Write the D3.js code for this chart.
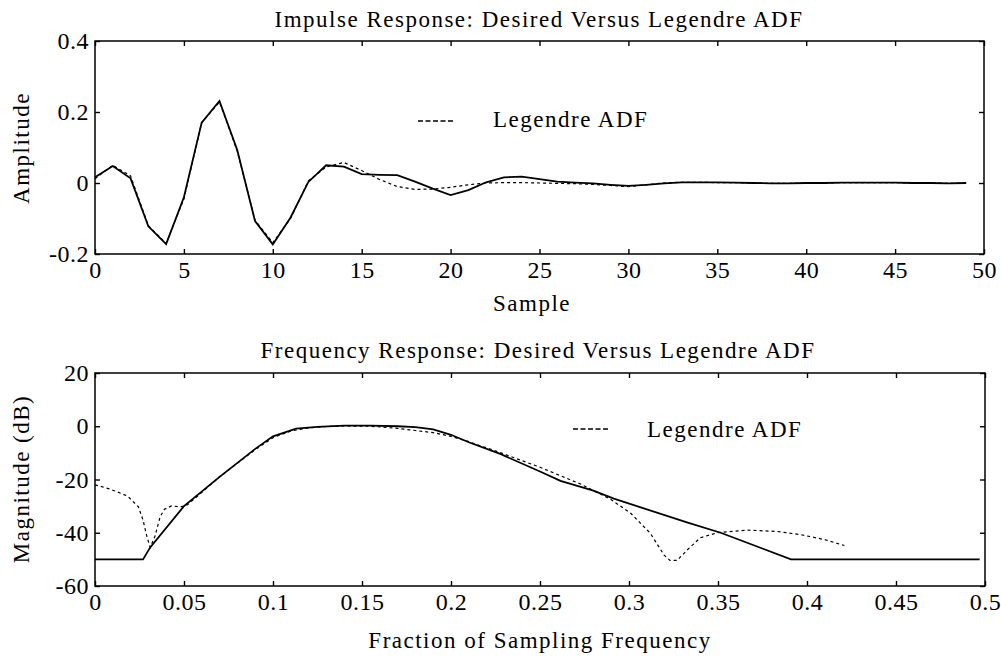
<!DOCTYPE html>
<html>
<head>
<meta charset="utf-8">
<script src="https://cdn.jsdelivr.net/npm/d3@7"></script>
<style>
  html, body { margin: 0; padding: 0; background: #fff; }
  svg { display: block; font-family: "Liberation Serif", "Times New Roman", serif; }
</style>
</head>
<body>
<svg id="chart" width="1001" height="657"></svg>
<script>
// ── Data ─────────────────────────────────────────────────────────

// impulse response, samples 0..49
const samples = d3.range(0, 50);
const desiredImpulse = [
  0.016, 0.048, 0.013, -0.122, -0.172, -0.04, 0.17, 0.231, 0.093, -0.107,
  -0.173, -0.097, 0.003, 0.05, 0.046, 0.025, 0.023, 0.022, 0.004, -0.016,
  -0.034, -0.02, 0.002, 0.016, 0.018, 0.011, 0.004, 0.001, -0.001, -0.005,
  -0.008, -0.005, -0.001, 0.002, 0.002, 0.002, 0.001, 0.0, -0.001, -0.001,
  0.0, 0.0, 0.001, 0.001, 0.001, 0.001, 0.0, 0.0, -0.001, 0.0,
];
const legendreImpulse = [
  0.012, 0.05, 0.02, -0.12, -0.17, -0.045, 0.17, 0.228, 0.09, -0.105,
  -0.168, -0.1, 0.006, 0.045, 0.058, 0.035, 0.01, -0.01, -0.018, -0.017,
  -0.012, -0.005, 0.0, 0.001, 0.001, 0.0, -0.001, -0.002, -0.004, -0.007,
  -0.01, -0.005, 0.0, 0.002, 0.002, 0.001, 0.001, 0.0, -0.001, -0.001,
  0.0, 0.0, 0.001, 0.001, 0.001, 0.001, 0.0, 0.0, -0.001, 0.0,
];

// frequency response: [fraction of fs, dB]
const desiredFreq = [
  [0, -50], [0.027, -50], [0.031, -45.5], [0.05, -30], [0.07, -19],
  [0.09, -8.5], [0.1, -3.8], [0.113, -0.9], [0.125, -0.2], [0.14, 0.2],
  [0.155, 0.2], [0.17, 0], [0.18, -0.3], [0.19, -1.2], [0.2, -3.2],
  [0.21, -6.0], [0.228, -10.5], [0.25, -17], [0.2615, -20.5], [0.28, -24.2],
  [0.2915, -27.2], [0.333, -36.2], [0.3515, -40], [0.391, -50], [0.497, -50],
];
const legendreFreq = [
  [0, -22], [0.008, -23.5], [0.015, -25.3], [0.0184, -26.3], [0.0244, -30.3],
  [0.027, -35.3], [0.029, -41], [0.031, -45.5], [0.0337, -41.3], [0.0366, -34],
  [0.039, -31.2], [0.043, -29.9], [0.048, -30.3], [0.052, -29.5], [0.07, -19],
  [0.09, -8.8], [0.1, -4.3], [0.11, -1.8], [0.12, -0.6], [0.13, -0.1],
  [0.14, 0.1], [0.155, 0], [0.17, -0.8], [0.18, -1.6], [0.19, -2.4],
  [0.2, -3.8], [0.21, -5.8], [0.228, -10], [0.25, -15.4], [0.2728, -21.7],
  [0.2896, -27.4], [0.301, -32.7], [0.312, -40.2], [0.3196, -48.3], [0.323, -50.4],
  [0.327, -50.4], [0.333, -46.3], [0.34, -41.9], [0.3496, -40], [0.3665, -39],
  [0.383, -39.5], [0.3965, -40.7], [0.41, -42.6], [0.421, -44.8],
];

// ticks
const sampleTicks = [0, 5, 10, 15, 20, 25, 30, 35, 40, 45, 50];
const ampTicks = [-0.2, 0, 0.2, 0.4];
const freqTicks = [0, 0.05, 0.1, 0.15, 0.2, 0.25, 0.3, 0.35, 0.4, 0.45, 0.5];
const dbTicks = [-60, -40, -20, 0, 20];

const legendLabel = "Legendre ADF";

// ── Layout ───────────────────────────────────────────────────────

const svg = d3.select("#chart");
const TICK = 5;
const fmt = (d) => d3.format("~g")(d).replace("\u2212", "-");

function panel(box, xDomain, yDomain, xTicks, yTicks) {
  const x = d3.scaleLinear().domain(xDomain).range([box.x0, box.x1]);
  const y = d3.scaleLinear().domain(yDomain).range([box.y1, box.y0]);
  const g = svg.append("g");

  const styleAxis = (sel, labels) => {
    sel.select(".domain").remove();
    sel.selectAll(".tick line").attr("stroke", "#000").attr("stroke-width", 1.4);
    sel.selectAll(".tick text")
      .attr("fill", "#000")
      .attr("font-size", 24)
      .attr("font-family", "Liberation Serif, serif")
      .attr("letter-spacing", 0.5);
    if (!labels) sel.selectAll(".tick text").remove();
  };

  g.append("g").attr("transform", `translate(0,${box.y1})`)
    .call(d3.axisBottom(x).tickValues(xTicks).tickSize(-TICK).tickPadding(7).tickFormat(fmt))
    .call(styleAxis, true);
  g.append("g").attr("transform", `translate(0,${box.y0})`)
    .call(d3.axisTop(x).tickValues(xTicks).tickSize(-TICK).tickFormat(""))
    .call(styleAxis, false);
  g.append("g").attr("transform", `translate(${box.x0},0)`)
    .call(d3.axisLeft(y).tickValues(yTicks).tickSize(-TICK).tickPadding(6).tickFormat(fmt))
    .call(styleAxis, true);
  g.append("g").attr("transform", `translate(${box.x1},0)`)
    .call(d3.axisRight(y).tickValues(yTicks).tickSize(-TICK).tickFormat(""))
    .call(styleAxis, false);

  g.append("rect")
    .attr("x", box.x0).attr("y", box.y0)
    .attr("width", box.x1 - box.x0).attr("height", box.y1 - box.y0)
    .attr("fill", "none").attr("stroke", "#000").attr("stroke-width", 1.5);

  return { x, y, g };
}

function text(x, y, str, opts = {}) {
  const t = svg.append("text")
    .attr("x", x).attr("y", y)
    .attr("font-size", opts.size ?? 23)
    .attr("letter-spacing", opts.spacing ?? 1.5)
    .attr("text-anchor", opts.anchor ?? "middle")
    .attr("fill", "#000")
    .text(str);
  if (opts.rotate) t.attr("transform", `rotate(-90,${x},${y})`);
  return t;
}

function legend(g, x0, x1, ly, tx, ty) {
  g.append("line")
    .attr("x1", x0).attr("x2", x1).attr("y1", ly).attr("y2", ly)
    .attr("stroke", "#000").attr("stroke-width", 1.5)
    .attr("stroke-dasharray", "5 2.5");
  text(tx, ty, legendLabel, { anchor: "start" });
}

// ── Top: impulse response ───────────────────────────────────────

const impulsePanel = panel({ x0: 95, x1: 984, y0: 41, y1: 254 }, [0, 50], [-0.2, 0.4], sampleTicks, ampTicks);

const impLine = d3.line().x((d, i) => impulsePanel.x(samples[i])).y((d) => impulsePanel.y(d));
impulsePanel.g.append("path").datum(legendreImpulse)
  .attr("d", impLine).attr("fill", "none")
  .attr("stroke", "#000").attr("stroke-width", 1.2).attr("stroke-dasharray", "3 3");
impulsePanel.g.append("path").datum(desiredImpulse)
  .attr("d", impLine).attr("fill", "none")
  .attr("stroke", "#000").attr("stroke-width", 1.8);

text(539, 27, "Impulse Response: Desired Versus Legendre ADF");
text(532, 311, "Sample");
text(29, 148, "Amplitude", { rotate: true });
legend(impulsePanel.g, 418, 455, 121, 493, 127);

// ── Bottom: frequency response ──────────────────────────────────

const freqPanel = panel({ x0: 95, x1: 985, y0: 373, y1: 586 }, [0, 0.5], [-60, 20], freqTicks, dbTicks);

const freqLine = d3.line().x((d) => freqPanel.x(d[0])).y((d) => freqPanel.y(d[1]));
freqPanel.g.append("path").datum(legendreFreq)
  .attr("d", freqLine).attr("fill", "none")
  .attr("stroke", "#000").attr("stroke-width", 1.2).attr("stroke-dasharray", "3 3");
freqPanel.g.append("path").datum(desiredFreq)
  .attr("d", freqLine).attr("fill", "none")
  .attr("stroke", "#000").attr("stroke-width", 1.8);

text(538, 358, "Frequency Response: Desired Versus Legendre ADF");
text(540, 648, "Fraction of Sampling Frequency");
text(29, 479, "Magnitude (dB)", { rotate: true });
legend(freqPanel.g, 573, 610, 429, 647, 437);
</script>
</body>
</html>
